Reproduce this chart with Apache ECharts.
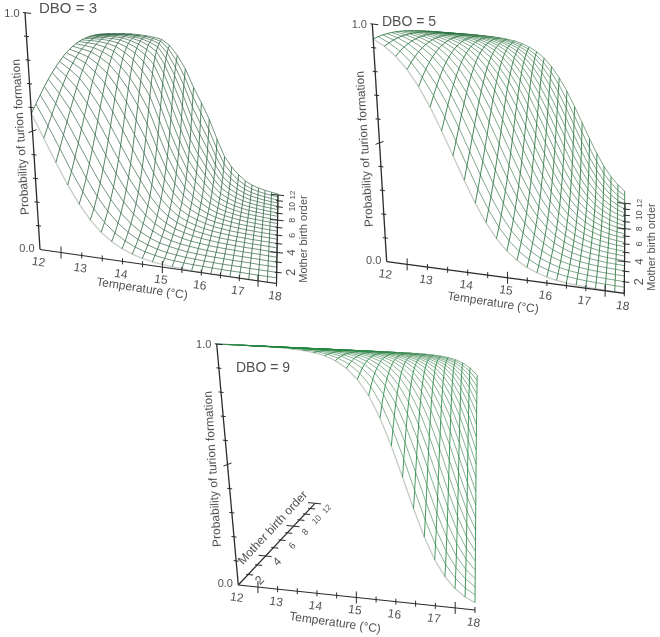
<!DOCTYPE html>
<html><head><meta charset="utf-8">
<style>html,body{margin:0;padding:0;background:#fff}#c{width:660px;height:637px}</style>
<script src="https://cdn.jsdelivr.net/npm/echarts@6/dist/echarts.min.js"></script>
</head><body><div id="c"></div>
<script>
// Axis values
const temperatures=[12,12.25,12.5,12.75,13,13.25,13.5,13.75,14,14.25,14.5,14.75,15,15.25,15.5,15.75,16,16.25,16.5,16.75,17,17.25,17.5,17.75,18];
const birthOrders=[1,1.5,2,2.5,3,3.5,4,4.5,5,5.5,6,6.5,7,7.5,8,8.5,9,9.5,10,10.5,11,11.5,12];
const tempLabels=[12,13,14,15,16,17,18];
const birthLabels=[2,4,6,8,10,12];
const probLabels=['0.0','1.0'];
// Probability of turion formation. Rows: birth order, columns: temperature.
const dbo3=[
[.574,.475,.378,.289,.214,.154,.109,.076,.052,.036,.024,.016,.011,.007,.005,.003,.002,.001,.001,.001,0,0,0,0,0],
[.609,.518,.426,.332,.25,.182,.13,.091,.063,.043,.029,.02,.013,.009,.006,.004,.003,.002,.001,.001,.001,0,0,0,0],
[.643,.561,.475,.382,.295,.22,.16,.114,.079,.054,.037,.024,.016,.011,.007,.005,.003,.002,.001,.001,.001,0,0,0,0],
[.676,.603,.525,.433,.344,.263,.195,.139,.098,.067,.045,.03,.021,.014,.009,.006,.004,.003,.002,.001,.001,.001,0,0,0],
[.707,.644,.574,.487,.398,.311,.235,.172,.122,.084,.057,.038,.025,.017,.012,.008,.005,.003,.002,.001,.001,.001,0,0,0],
[.736,.682,.622,.541,.455,.365,.282,.211,.152,.104,.07,.047,.032,.021,.014,.01,.006,.004,.003,.002,.001,.001,.001,0,0],
[.763,.719,.668,.595,.514,.424,.336,.256,.188,.13,.088,.059,.039,.027,.018,.012,.008,.005,.003,.002,.001,.001,.001,0,0],
[.788,.752,.711,.647,.574,.486,.396,.309,.233,.161,.109,.073,.049,.033,.022,.015,.01,.006,.004,.003,.002,.001,.001,.001,0],
[.812,.783,.75,.697,.632,.549,.46,.368,.283,.199,.135,.091,.06,.041,.028,.018,.012,.008,.005,.003,.002,.001,.001,.001,0],
[.833,.811,.786,.742,.687,.612,.526,.433,.342,.244,.166,.113,.075,.051,.035,.023,.014,.01,.006,.004,.003,.002,.001,.001,.001],
[.852,.836,.818,.783,.738,.671,.592,.501,.406,.295,.204,.139,.092,.064,.043,.028,.018,.012,.008,.005,.003,.002,.001,.001,.001],
[.869,.858,.846,.819,.784,.727,.657,.571,.476,.353,.248,.171,.114,.079,.054,.035,.022,.015,.01,.006,.004,.003,.002,.001,.001],
[.885,.878,.87,.851,.824,.776,.716,.638,.546,.417,.298,.208,.14,.097,.067,.043,.027,.018,.012,.008,.005,.003,.002,.001,.001],
[.899,.896,.891,.878,.858,.819,.769,.7,.616,.484,.354,.252,.171,.12,.083,.054,.034,.022,.015,.009,.006,.004,.003,.002,.001],
[.911,.911,.909,.901,.887,.856,.816,.757,.682,.553,.416,.301,.207,.147,.103,.066,.041,.027,.018,.011,.007,.005,.003,.002,.001],
[.922,.924,.924,.92,.91,.887,.855,.807,.742,.62,.48,.356,.249,.18,.127,.082,.051,.034,.022,.014,.009,.006,.004,.003,.002],
[.932,.935,.937,.935,.93,.912,.887,.849,.795,.683,.545,.415,.296,.218,.156,.101,.062,.041,.027,.017,.011,.007,.005,.003,.002],
[.941,.945,.948,.948,.945,.932,.913,.883,.839,.741,.61,.478,.349,.262,.19,.123,.076,.051,.033,.021,.013,.009,.006,.004,.003],
[.948,.953,.957,.959,.957,.948,.934,.911,.876,.792,.671,.541,.406,.311,.229,.151,.093,.062,.041,.026,.016,.011,.007,.005,.003],
[.955,.96,.964,.967,.967,.96,.95,.932,.906,.835,.728,.604,.466,.365,.275,.182,.113,.076,.05,.032,.02,.013,.009,.006,.004],
[.961,.966,.971,.974,.975,.97,.962,.949,.929,.871,.778,.664,.527,.423,.326,.22,.137,.093,.061,.039,.024,.016,.011,.007,.005],
[.966,.972,.976,.979,.981,.977,.972,.962,.947,.901,.821,.719,.587,.484,.381,.262,.165,.112,.075,.047,.029,.02,.013,.009,.006],
[.97,.976,.98,.984,.985,.983,.979,.972,.961,.924,.858,.769,.646,.545,.44,.31,.198,.136,.091,.057,.036,.024,.016,.011,.007]
];
const dbo5=[
[.937,.909,.87,.818,.75,.668,.574,.475,.378,.289,.214,.154,.109,.076,.052,.036,.024,.016,.011,.007,.005,.003,.002,.001,.001],
[.948,.924,.891,.846,.786,.711,.622,.525,.426,.332,.25,.182,.13,.091,.063,.043,.029,.02,.013,.009,.006,.004,.003,.002,.001],
[.957,.937,.909,.87,.818,.75,.668,.574,.475,.378,.289,.214,.154,.109,.076,.052,.036,.024,.016,.011,.007,.005,.003,.002,.001],
[.964,.948,.924,.891,.846,.786,.711,.622,.525,.426,.332,.25,.182,.13,.091,.063,.043,.029,.02,.013,.009,.006,.004,.003,.002],
[.971,.957,.937,.909,.87,.818,.75,.668,.574,.475,.378,.289,.214,.154,.109,.076,.052,.036,.024,.016,.011,.007,.005,.003,.002],
[.976,.964,.948,.924,.891,.846,.786,.711,.622,.525,.426,.332,.25,.182,.13,.091,.063,.043,.029,.02,.013,.009,.006,.004,.003],
[.98,.971,.957,.937,.909,.87,.818,.75,.668,.574,.475,.378,.289,.214,.154,.109,.076,.052,.036,.024,.016,.011,.007,.005,.003],
[.984,.976,.964,.948,.924,.891,.846,.786,.711,.622,.525,.426,.332,.25,.182,.13,.091,.063,.043,.029,.02,.013,.009,.006,.004],
[.987,.98,.971,.957,.937,.909,.87,.818,.75,.668,.574,.475,.378,.289,.214,.154,.109,.076,.052,.036,.024,.016,.011,.007,.005],
[.989,.984,.976,.964,.948,.924,.891,.846,.786,.711,.622,.525,.426,.332,.25,.182,.13,.091,.063,.043,.029,.02,.013,.009,.006],
[.991,.987,.98,.971,.957,.937,.909,.87,.818,.75,.668,.574,.475,.378,.289,.214,.154,.109,.076,.052,.036,.024,.016,.011,.007],
[.993,.989,.984,.976,.964,.948,.924,.891,.846,.786,.711,.622,.525,.426,.332,.25,.182,.13,.091,.063,.043,.029,.02,.013,.009],
[.994,.991,.987,.98,.971,.957,.937,.909,.87,.818,.75,.668,.574,.475,.378,.289,.214,.154,.109,.076,.052,.036,.024,.016,.011],
[.995,.993,.989,.984,.976,.964,.948,.924,.891,.846,.786,.711,.622,.525,.426,.332,.25,.182,.13,.091,.063,.043,.029,.02,.013],
[.996,.994,.991,.987,.98,.971,.957,.937,.909,.87,.818,.75,.668,.574,.475,.378,.289,.214,.154,.109,.076,.052,.036,.024,.016],
[.997,.995,.993,.989,.984,.976,.964,.948,.924,.891,.846,.786,.711,.622,.525,.426,.332,.25,.182,.13,.091,.063,.043,.029,.02],
[.997,.996,.994,.991,.987,.98,.971,.957,.937,.909,.87,.818,.75,.668,.574,.475,.378,.289,.214,.154,.109,.076,.052,.036,.024],
[.998,.997,.995,.993,.989,.984,.976,.964,.948,.924,.891,.846,.786,.711,.622,.525,.426,.332,.25,.182,.13,.091,.063,.043,.029],
[.998,.997,.996,.994,.991,.987,.98,.971,.957,.937,.909,.87,.818,.75,.668,.574,.475,.378,.289,.214,.154,.109,.076,.052,.036],
[.998,.998,.997,.995,.993,.989,.984,.976,.964,.948,.924,.891,.846,.786,.711,.622,.525,.426,.332,.25,.182,.13,.091,.063,.043],
[.999,.998,.997,.996,.994,.991,.987,.98,.971,.957,.937,.909,.87,.818,.75,.668,.574,.475,.378,.289,.214,.154,.109,.076,.052],
[.999,.998,.998,.997,.995,.993,.989,.984,.976,.964,.948,.924,.891,.846,.786,.711,.622,.525,.426,.332,.25,.182,.13,.091,.063],
[.999,.999,.998,.997,.996,.994,.991,.987,.98,.971,.957,.937,.909,.87,.818,.75,.668,.574,.475,.378,.289,.214,.154,.109,.076]
];
const dbo9=[
[1,1,.999,.999,.998,.998,.996,.993,.989,.982,.971,.953,.924,.881,.818,.731,.622,.5,.378,.269,.182,.119,.076,.047,.029],
[1,1,1,.999,.999,.998,.997,.995,.991,.986,.977,.963,.94,.905,.852,.777,.679,.562,.438,.321,.223,.148,.095,.06,.037],
[1,1,1,.999,.999,.998,.998,.996,.993,.989,.982,.971,.953,.924,.881,.818,.731,.622,.5,.378,.269,.182,.119,.076,.047],
[1,1,1,1,.999,.999,.998,.997,.995,.991,.986,.977,.963,.94,.905,.852,.777,.679,.562,.438,.321,.223,.148,.095,.06],
[1,1,1,1,.999,.999,.998,.998,.996,.993,.989,.982,.971,.953,.924,.881,.818,.731,.622,.5,.378,.269,.182,.119,.076],
[1,1,1,1,1,.999,.999,.998,.997,.995,.991,.986,.977,.963,.94,.905,.852,.777,.679,.562,.438,.321,.223,.148,.095],
[1,1,1,1,1,.999,.999,.998,.998,.996,.993,.989,.982,.971,.953,.924,.881,.818,.731,.622,.5,.378,.269,.182,.119],
[1,1,1,1,1,1,.999,.999,.998,.997,.995,.991,.986,.977,.963,.94,.905,.852,.777,.679,.562,.438,.321,.223,.148],
[1,1,1,1,1,1,.999,.999,.998,.998,.996,.993,.989,.982,.971,.953,.924,.881,.818,.731,.622,.5,.378,.269,.182],
[1,1,1,1,1,1,1,.999,.999,.998,.997,.995,.991,.986,.977,.963,.94,.905,.852,.777,.679,.562,.438,.321,.223],
[1,1,1,1,1,1,1,.999,.999,.998,.998,.996,.993,.989,.982,.971,.953,.924,.881,.818,.731,.622,.5,.378,.269],
[1,1,1,1,1,1,1,1,.999,.999,.998,.997,.995,.991,.986,.977,.963,.94,.905,.852,.777,.679,.562,.438,.321],
[1,1,1,1,1,1,1,1,.999,.999,.998,.998,.996,.993,.989,.982,.971,.953,.924,.881,.818,.731,.622,.5,.378],
[1,1,1,1,1,1,1,1,1,.999,.999,.998,.997,.995,.991,.986,.977,.963,.94,.905,.852,.777,.679,.562,.438],
[1,1,1,1,1,1,1,1,1,.999,.999,.998,.998,.996,.993,.989,.982,.971,.953,.924,.881,.818,.731,.622,.5],
[1,1,1,1,1,1,1,1,1,1,.999,.999,.998,.997,.995,.991,.986,.977,.963,.94,.905,.852,.777,.679,.562],
[1,1,1,1,1,1,1,1,1,1,.999,.999,.998,.998,.996,.993,.989,.982,.971,.953,.924,.881,.818,.731,.622],
[1,1,1,1,1,1,1,1,1,1,1,.999,.999,.998,.997,.995,.991,.986,.977,.963,.94,.905,.852,.777,.679],
[1,1,1,1,1,1,1,1,1,1,1,.999,.999,.998,.998,.996,.993,.989,.982,.971,.953,.924,.881,.818,.731],
[1,1,1,1,1,1,1,1,1,1,1,1,.999,.999,.998,.997,.995,.991,.986,.977,.963,.94,.905,.852,.777],
[1,1,1,1,1,1,1,1,1,1,1,1,.999,.999,.998,.998,.996,.993,.989,.982,.971,.953,.924,.881,.818],
[1,1,1,1,1,1,1,1,1,1,1,1,1,.999,.999,.998,.997,.995,.991,.986,.977,.963,.94,.905,.852],
[1,1,1,1,1,1,1,1,1,1,1,1,1,.999,.999,.998,.998,.996,.993,.989,.982,.971,.953,.924,.881]
];

// Perspective views: floor corners [T12 B1, T18 B1, T18 B12, T12 B12]; top corners [T12 B1, T18 B1, T12 B12]
const views=[
 {name:'DBO = 3',values:dbo3,floor:[[40,249.5],[276.5,283.5],[278,195],[117,167.5]],top:[[25,12.7],[278,30],[102,30]],
  tLine:'rgba(45,100,65,.8)',bLine:'rgba(70,115,85,.75)',edge:'#c4cdc4',birthAt:18,titleSize:15,
  title:[68,9],pName:[21,137,93.5],tName:[142,289,-8.5],bName:[304,239,90],birthRot:90,birthOff:[15,0]},
 {name:'DBO = 5',values:dbo5,floor:[[386.7,261.7],[624.3,293.3],[625,203.3],[463.7,179.7]],top:[[372.3,24],[625,38],[449,33]],
  tLine:'rgba(40,115,60,.85)',bLine:'rgba(85,140,100,.75)',edge:'#c4cdc4',birthAt:18,titleSize:14,
  title:[409,22],pName:[365,149,93.5],tName:[493,303,-8.5],bName:[652,247,90],birthRot:90,birthOff:[15,0]},
 {name:'DBO = 9',values:dbo9,floor:[[238.3,585],[475,610],[476,520],[315,503.3]],top:[[216.7,344],[475,355],[301.7,348.3]],
  tLine:'rgba(35,135,65,.85)',bLine:'rgba(100,155,115,.75)',edge:'#c4cdc4',birthAt:12,titleSize:14,
  title:[263,368],pName:[213,469,93.5],tName:[335,623,-8],bName:[273,528,47],birthRot:45,birthOff:[12,6]}
];

function projector(view){
 const [[x0,y0],[x1,y1],[x2,y2],[x3,y3]]=view.floor;
 const dx1=x1-x2,dx2=x3-x2,sx=x0-x1+x2-x3,dy1=y1-y2,dy2=y3-y2,sy=y0-y1+y2-y3,det=dx1*dy2-dx2*dy1;
 const g=(sx*dy2-dx2*sy)/det,h=(dx1*sy-sx*dy1)/det;
 const a=x1-x0+g*x1,b=x3-x0+h*x3,d=y1-y0+g*y1,e=y3-y0+h*y3;
 const [[tx0,ty0],[tx1,ty1],[tx3,ty3]]=view.top;
 const ta=tx1*(1+g)-tx0,tb=tx3*(1+h)-tx0,td=ty1*(1+g)-ty0,te=ty3*(1+h)-ty0;
 return (T,B,P)=>{const u=(T-12)/6,v=(B-1)/11,w=g*u+h*v+1;
  const fx=(a*u+b*v+x0)/w,fy=(d*u+e*v+y0)/w,qx=(ta*u+tb*v+tx0)/w,qy=(td*u+te*v+ty0)/w;
  return [fx+(qx-fx)*P,fy+(qy-fy)*P];};
}
const series=[];
const FONT='"Liberation Sans",Arial,sans-serif',INK='#262626';
function line(points,color,width,z){series.push({type:'line',data:points,symbol:'none',silent:true,animation:false,z:z,
 lineStyle:{color:color,width:width},emphasis:{disabled:true}});}
function text(x,y,str,size,rot,color){series.push({type:'scatter',data:[[x,y]],symbolSize:1,silent:true,animation:false,z:9,
 itemStyle:{color:'transparent'},label:{show:true,position:'inside',formatter:String(str),fontSize:size,rotate:rot||0,color:color||INK,fontFamily:FONT}});}

views.forEach(view=>{
 const P=projector(view),rows=view.values;
 birthOrders.forEach((b,r)=>line(temperatures.map((t,c)=>P(t,b,rows[r][c])),r===0?view.edge:view.bLine,r===0?1.3:1,2));
 temperatures.forEach((t,c)=>line(birthOrders.map((b,r)=>P(t,b,rows[r][c])),view.tLine,1,3));
 const axisInk='#2a2a2a';
 line([P(12,1,0),P(18,1,0)],axisInk,1.2,5);
 line([P(12,1,0),P(12,1,1)],axisInk,1.3,5);
 line([P(view.birthAt,1,0),P(view.birthAt,12,0)],axisInk,1.2,5);
 for(let t=12.5;t<=18;t+=.5){const p=P(t,1,0),long=(t===12.5||t===15||t===17.5),s=long?6:3;
  line([[p[0],p[1]-s],[p[0],p[1]+s]],axisInk,1,5);}
 for(let i=1;i<=10;i++){const p=P(12,1,i/10),s=i===5?4:2.5,r=i===10?6:s,l=i===10?2:s;
  line([[p[0]-l,p[1]-l*.12+(i===5?2:0)],[p[0]+r,p[1]+r*.12-(i===5?2:0)]],axisInk,1,5);}
 for(let b=2;b<=12;b++){const p=P(view.birthAt,b,0),long=(b===4||b===8||b===12),l=long?7:2,r=long?6:5;
  line([[p[0]-l,p[1]-l*.1],[p[0]+r,p[1]+r*.1]],axisInk,1,5);}
 tempLabels.forEach(t=>{const p=P(t,1,0);text(p[0]-1.5,p[1]+13,t,12,-8);});
 const zero=P(12,1,0),one=P(12,1,1);
 text(zero[0]-13,zero[1]-1,probLabels[0],11);
 text(one[0]-13,one[1]+1,probLabels[1],11);
 birthLabels.forEach((b,i)=>{const p=P(view.birthAt,b,0);
  text(p[0]+view.birthOff[0],p[1]+view.birthOff[1],b,[12.5,11.5,9.5,9,8.5,8][i],view.birthRot,INK);});
 text(view.title[0],view.title[1],view.name,view.titleSize);
 text(view.pName[0],view.pName[1],'Probability of turion formation',12,view.pName[2]);
 text(view.tName[0],view.tName[1],'Temperature (°C)',12,view.tName[2]);
 text(view.bName[0],view.bName[1],'Mother birth order',view.bName[2]===90?11:12,view.bName[2]);
});

const chart=echarts.init(document.getElementById('c'),null,{renderer:'canvas'});
chart.setOption({backgroundColor:'#fff',animation:false,tooltip:{show:false},legend:{show:false},
 grid:{left:0,right:0,top:0,bottom:0,containLabel:false},
 xAxis:{type:'value',min:0,max:660,show:false},
 yAxis:{type:'value',min:0,max:637,inverse:true,show:false},
 series:series});
</script></body></html>
